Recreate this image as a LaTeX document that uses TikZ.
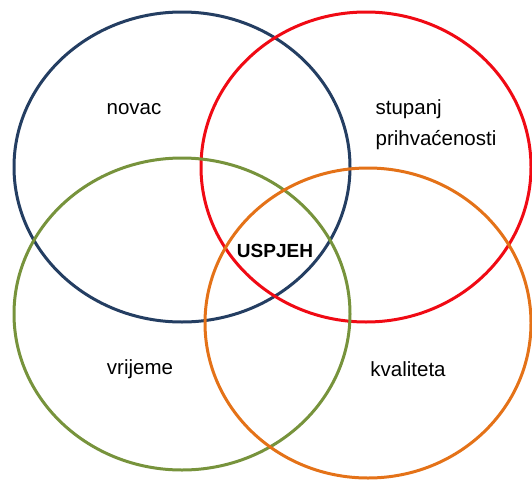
\documentclass[tikz,border=0pt]{standalone}
\usepackage{fontspec}
\setmainfont{Liberation Sans}
\usepackage{tikz}
\usetikzlibrary{positioning}

\definecolor{navy}{RGB}{36,62,98}
\definecolor{rubyred}{RGB}{240,10,20}
\definecolor{olive}{RGB}{119,147,60}
\definecolor{pumpkin}{RGB}{228,114,24}

\begin{document}
\begin{tikzpicture}[
  x=1pt,y=-1pt,
  ring/.style={line width=3pt},
  every node/.style={inner sep=1pt,font=\fontsize{20.5}{31}\selectfont},
  ]
  \useasboundingbox (0,0) rectangle (532,479);

  \draw[ring, navy] (182,167) ellipse (168 and 155);
  \draw[ring, rubyred] (366,167) ellipse (165 and 155);
  \draw[ring, olive] (182,314) ellipse (168 and 156);
  \draw[ring, pumpkin] (368,323) ellipse (163 and 155);

  \node (Money) at (134,109) {novac};
  \node[align=left] (Accept) at (436,125) {stupanj\\prihvaćenosti};
  \node (Time) at (140,369) {vrijeme};
  \node (Quality) at (408,369) {kvaliteta};
  \node[font=\fontsize{19}{22}\selectfont\bfseries] (Success) at (275,251) {USPJEH};

\end{tikzpicture}
\end{document}
